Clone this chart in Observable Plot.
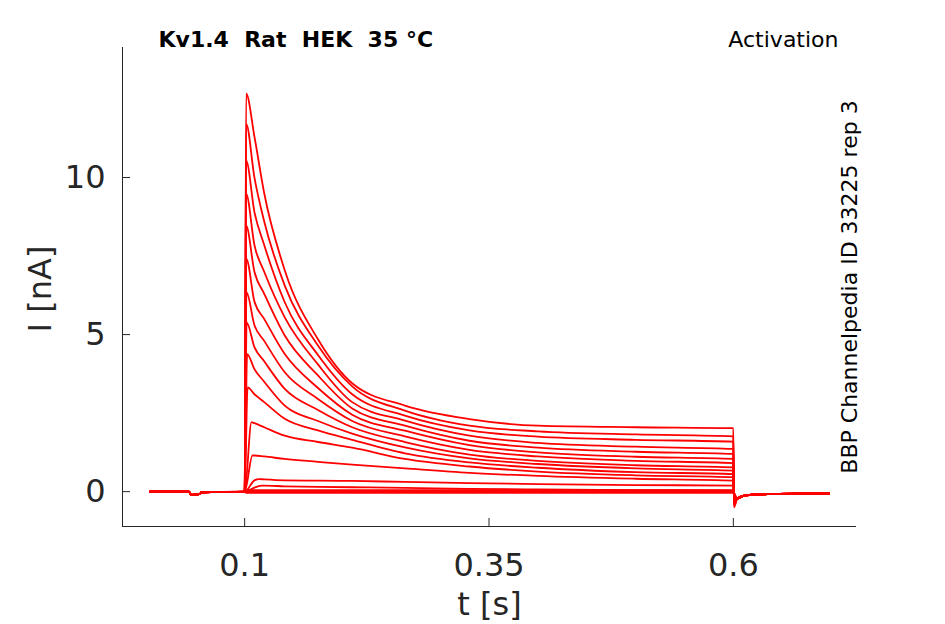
<!DOCTYPE html>
<html>
<head>
<meta charset="utf-8">
<style>
  html, body { margin: 0; padding: 0; background: white; }
</style>
<script src="https://cdn.jsdelivr.net/npm/d3@7"></script>
<script src="https://cdn.jsdelivr.net/npm/@observablehq/plot@0.6"></script>
</head>
<body>
<div id="chart"></div>
<script>
// ---- Data ----
const xTicks = [0.1, 0.35, 0.6];
const yTicks = [0, 5, 10];

// pre-pulse baseline (shared by all sweeps)
const preTimes  = [0.003, 0.043, 0.045, 0.054, 0.056, 0.1];
const preValues = [0.0, 0.0, -0.1, -0.08, -0.02, 0.0];

// peak of each sweep
const peakTimes  = [0.1015, 0.1015, 0.1015, 0.1015, 0.1015, 0.1017, 0.1018, 0.102, 0.1025, 0.103, 0.107, 0.108, 0.115, 0.118];
const peakValues = [12.67, 11.71, 10.54, 9.48, 8.47, 7.41, 6.35, 5.39, 4.38, 3.32, 2.21, 1.15, 0.40, 0.19];

// decay phase samples
const decayTimes = [0.11, 0.12, 0.141, 0.175, 0.21, 0.264, 0.33, 0.4, 0.5, 0.6];
const sweep1  = [11.3, 9.5, 7.05, 4.85, 3.45, 2.74, 2.31, 2.10, 2.05, 2.02];
const sweep2  = [10.0, 8.6, 6.56, 4.65, 3.35, 2.58, 2.10, 1.92, 1.82, 1.76];
const sweep3  = [8.9, 7.85, 6.03, 4.35, 3.10, 2.42, 1.95, 1.75, 1.65, 1.59];
const sweep4  = [7.85, 7.0, 5.55, 4.05, 2.85, 2.26, 1.78, 1.55, 1.43, 1.36];
const sweep5  = [7.0, 6.3, 4.97, 3.7, 2.65, 2.10, 1.62, 1.40, 1.27, 1.20];
const sweep6  = [6.05, 5.5, 4.38, 3.3, 2.45, 1.94, 1.48, 1.25, 1.11, 1.04];
const sweep7  = [5.3, 4.8, 3.8, 2.95, 2.25, 1.76, 1.33, 1.12, 0.98, 0.91];
const sweep8  = [4.6, 4.15, 3.27, 2.6, 2.05, 1.58, 1.18, 0.98, 0.84, 0.77];
const sweep9  = [3.9, 3.5, 2.74, 2.25, 1.85, 1.41, 1.06, 0.88, 0.74, 0.67];
const sweep10 = [3.1, 2.85, 2.32, 1.95, 1.65, 1.22, 0.93, 0.76, 0.62, 0.56];
const sweep11 = [2.18, 2.05, 1.78, 1.58, 1.40, 1.04, 0.80, 0.64, 0.52, 0.46];
const sweep12 = [1.15, 1.12, 1.04, 0.95, 0.86, 0.74, 0.60, 0.50, 0.41, 0.35];
const sweep13 = [0.36, 0.39, 0.36, 0.35, 0.34, 0.31, 0.27, 0.24, 0.21, 0.19];
const sweep14 = [0.13, 0.19, 0.17, 0.15, 0.14, 0.12, 0.09, 0.07, 0.05, 0.03];
const sweeps = [sweep1, sweep2, sweep3, sweep4, sweep5, sweep6, sweep7, sweep8, sweep9, sweep10, sweep11, sweep12, sweep13, sweep14];

// sweeps that stay near zero during the pulse
const flatLevels = [0.05, 0.0, -0.04];
const flatTimes  = [0.1015, 0.35, 0.6];

// after the pulse
const tailDips  = [-0.5, -0.46, -0.42, -0.38, -0.34, -0.3, -0.27, -0.24, -0.2, -0.17, -0.14, -0.11, -0.08, -0.05];
const flatDips  = [-0.04, -0.03, -0.05];
const tailTimes = [0.6006, 0.604, 0.612, 0.635, 0.698];
const tailRest  = [-0.22, -0.12, -0.08, -0.06];

// ---- Build table ----
const rows = [];
function addPre(id) { preTimes.forEach((t, j) => rows.push({id, t, v: preValues[j]})); }
function addTail(id, dip) {
  rows.push({id, t: tailTimes[0], v: dip});
  tailTimes.slice(1).forEach((t, j) => rows.push({id, t, v: tailRest[j]}));
}
sweeps.forEach((vals, i) => {
  const id = "s" + String(i).padStart(2, "0");
  addPre(id);
  rows.push({id, t: peakTimes[i], v: peakValues[i]});
  decayTimes.forEach((t, j) => rows.push({id, t, v: vals[j]}));
  addTail(id, tailDips[i]);
});
flatLevels.forEach((lv, i) => {
  const id = "f" + i;
  addPre(id);
  flatTimes.forEach(t => rows.push({id, t, v: lv}));
  addTail(id, flatDips[i]);
});
rows.sort((a, b) => a.id < b.id ? -1 : a.id > b.id ? 1 : a.t - b.t);

const xDomain = [-0.025, 0.726];
const yDomain = [-1.11, 14.14];
const ink = "#262626";

const chart = Plot.plot({
  width: 945,
  height: 624,
  marginLeft: 122,
  marginRight: 89,
  marginTop: 47,
  marginBottom: 98,
  style: {fontFamily: "'DejaVu Sans', sans-serif", background: "white", color: ink, whiteSpace: "pre", overflow: "visible"},
  x: {domain: xDomain},
  y: {domain: yDomain},
  marks: [
    Plot.line(rows, {x: "t", y: "v", z: "id", stroke: "#ff0000", strokeWidth: 1.8, curve: "monotone-x"}),
    Plot.ruleX([xDomain[0]], {stroke: ink, strokeWidth: 1}),
    Plot.ruleY([yDomain[0]], {stroke: ink, strokeWidth: 1}),
    Plot.tickX(xTicks, {x: d => d, insetTop: 471, stroke: ink}),
    Plot.tickY(yTicks, {y: d => d, insetRight: 726, stroke: ink}),
    Plot.axisX(xTicks, {tickSize: 0, tickPadding: 27, fontSize: 32, fill: ink, label: null, tickFormat: d => String(d)}),
    Plot.axisY(yTicks, {tickSize: 0, tickPadding: 17, fontSize: 32, fill: ink, label: null, tickFormat: d => String(d)}),
    Plot.text(["t [s]"], {frameAnchor: "bottom", dy: 78, textAnchor: "middle", lineAnchor: "middle", fontSize: 32, fill: ink}),
    Plot.text(["I [nA]"], {frameAnchor: "left", dx: -82, dy: 2, rotate: -90, textAnchor: "middle", lineAnchor: "middle", fontSize: 32, fill: ink}),
    Plot.text(["Kv1.4  Rat  HEK  35 °C"], {frameAnchor: "top-left", dx: 36, dy: -8, textAnchor: "start", lineAnchor: "middle", fontSize: 22, fontWeight: "bold", fill: "black"}),
    Plot.text(["Activation"], {frameAnchor: "top-right", dx: -18, dy: -8, textAnchor: "end", lineAnchor: "middle", fontSize: 22, fill: "black"}),
    Plot.text(["BBP Channelpedia ID 33225 rep 3"], {frameAnchor: "right", dx: -7, rotate: -90, textAnchor: "middle", lineAnchor: "middle", fontSize: 22, fill: "black"})
  ]
});
document.getElementById("chart").appendChild(chart);
</script>
</body>
</html>
